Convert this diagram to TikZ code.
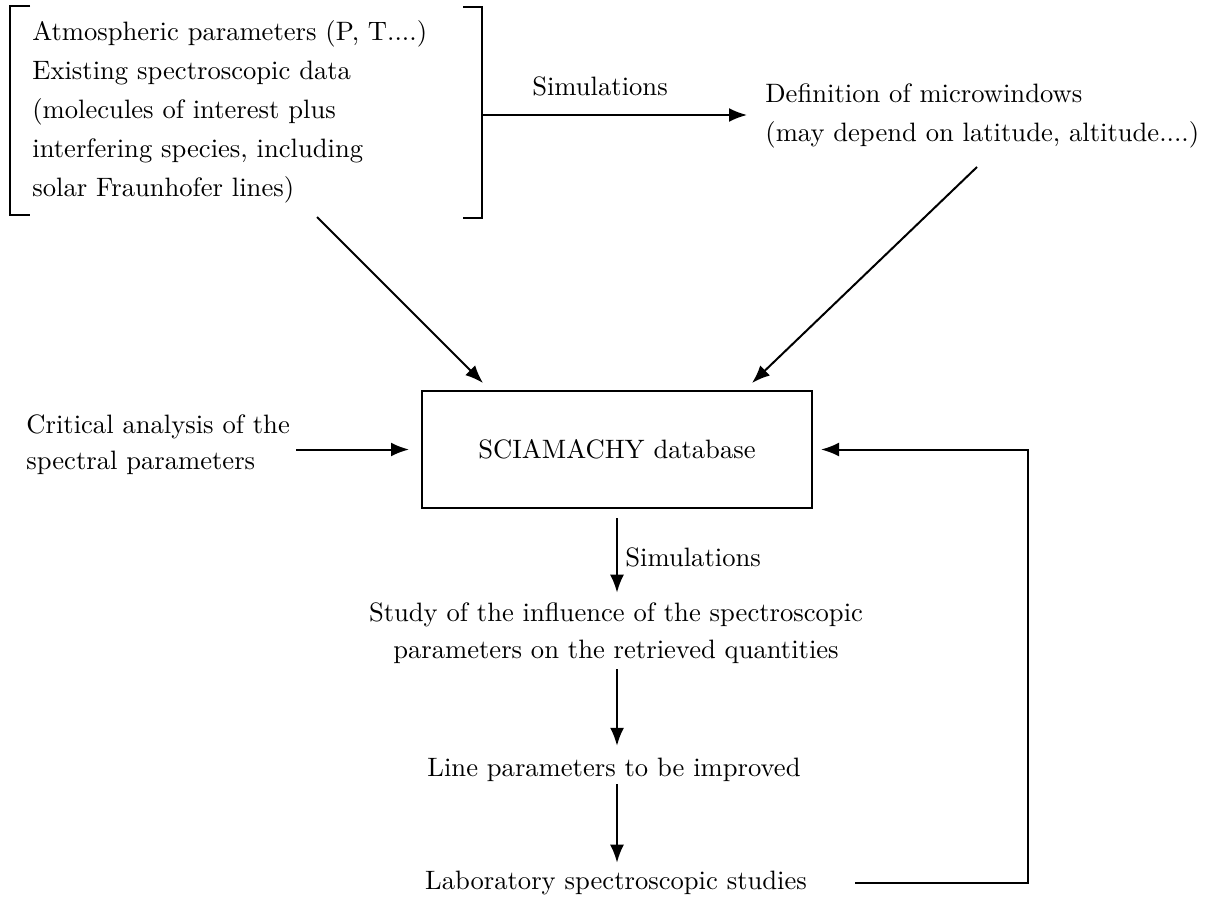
\documentclass[tikz,border=0pt]{standalone}
\usepackage{fontspec}
\setmainfont{lmroman10-regular.otf}
\usetikzlibrary{arrows.meta}
\begin{document}
\begin{tikzpicture}[x=0.5pt,y=-0.5pt,
  every node/.style={inner sep=0pt, font=\fontsize{13.3}{19.5}\selectfont},
  arr/.style={-{Latex[length=9pt,width=7pt]}, line width=1pt},
  ln/.style={line width=1pt},
  txt/.style={align=left},
  ctxt/.style={align=center},
  dbbox/.style={draw, line width=1pt, minimum width=195pt, minimum height=58.5pt}]
\useasboundingbox (0,0) rectangle (1208,899);
% brackets
\draw[ln] (30,6) -- (10,6) -- (10,215) -- (30,215);
\draw[ln] (463,7) -- (482,7) -- (482,218) -- (463,218);
% nodes
\node[txt, anchor=west] (atm) at (32,111.5) {Atmospheric parameters (P, T....)\\Existing spectroscopic data\\(molecules of interest plus\\interfering species, including\\solar Fraunhofer lines)};
\node[txt, anchor=west] (def) at (765,116) {Definition of microwindows\\(may depend on latitude, altitude....)};
\node (sim1) at (600,86) {Simulations};
\node[dbbox] (db) at (617,449.5) {SCIAMACHY database};
\node[txt, anchor=west, font=\fontsize{13.3}{18}\selectfont] (crit) at (26,445) {Critical analysis of the\\spectral parameters};
\node[anchor=west] (sim2) at (625,557) {Simulations};
\node[ctxt, font=\fontsize{13.3}{18.5}\selectfont] (study) at (616,633.5) {Study of the influence of the spectroscopic\\parameters on the retrieved quantities};
\node (line) at (614,770) {Line parameters to be improved};
\node (lab) at (616,883) {Laboratory spectroscopic studies};
% coordinates
\coordinate (br) at (482,115);
\coordinate (d1) at (317,217);
\coordinate (d1e) at (483,383);
\coordinate (d2) at (977,167);
\coordinate (d2e) at (752,383);
\coordinate (fb) at (1028,883);
% connectors
\draw[arr, shorten >=9pt] (br) -- (br -| def.west);
\draw[arr] (d1) -- (d1e);
\draw[arr] (d2) -- (d2e);
\draw[arr, shorten <=3pt, shorten >=6pt] (crit.east |- db.west) -- (db.west);
\draw[arr, shorten <=4.5pt, shorten >=5pt] (db.south) -- (db.south |- study.north);
\draw[arr, shorten <=2.5pt, shorten >=6pt] (db.south |- study.south) -- (db.south |- line.north);
\draw[arr, shorten <=1pt, shorten >=4pt] (db.south |- line.south) -- (db.south |- lab.north);
\draw[arr, shorten <=24pt, shorten >=4pt] (lab.east) -- (lab.east -| fb) -- (fb |- db.east) -- (db.east);
\end{tikzpicture}
\end{document}
